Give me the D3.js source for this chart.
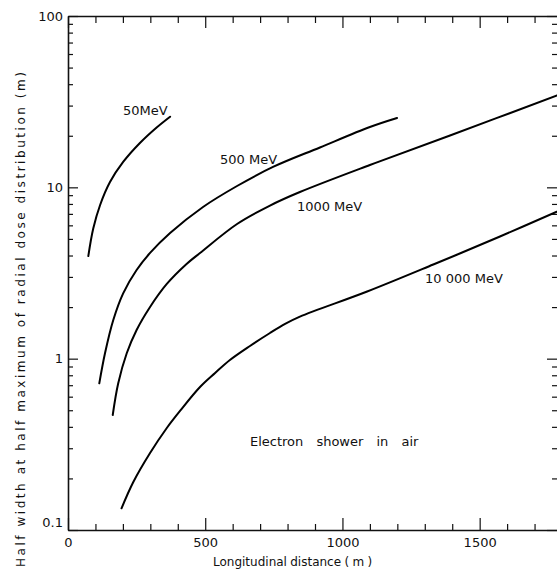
<!DOCTYPE html>
<html>
<head>
<meta charset="utf-8">
<script src="https://cdn.jsdelivr.net/npm/d3@7"></script>
<style>
  body { margin: 0; background: #fff; }
  text { font-family: "DejaVu Sans", sans-serif; fill: #111; }
</style>
</head>
<body>
<script>
// curves: [distance (m), half width (m)]
const mev50 = [[74, 3.97], [92, 5.75], [117, 7.89], [153, 10.74], [201, 14.06], [262, 18.14], [323, 22.35], [372, 25.84]];
const mev500 = [[114, 0.718], [135, 1.079], [165, 1.682], [201, 2.407], [250, 3.293], [299, 4.14], [372, 5.41],
  [492, 7.68], [616, 10.18], [747, 13.15], [918, 17.09], [1100, 22.5], [1199, 25.4]];
const mev1000 = [[163, 0.469], [183, 0.718], [214, 1.075], [250, 1.47], [299, 2.003], [360, 2.729], [432, 3.569],
  [481, 4.137], [616, 6.11], [736, 7.83], [845, 9.39], [1100, 13.5], [1392, 20.07], [1782, 34.4]];
const mev10000 = [[195, 0.1338], [238, 0.1906], [299, 0.2814], [360, 0.3938], [408, 0.4951], [481, 0.6832],
  [536, 0.8249], [590, 0.982], [663, 1.186], [736, 1.412], [791, 1.594], [845, 1.758], [1090, 2.466],
  [1331, 3.545], [1574, 5.164], [1781, 7.21]];

const curveLabels = [
  {text: "50MeV", x: 200, y: 26.4},
  {text: "500 MeV", x: 554, y: 13.7},
  {text: "1000 MeV", x: 834, y: 7.25},
  {text: "10 000 MeV", x: 1301, y: 2.75}
];

const xMajor = [0, 500, 1000, 1500];
const yMajor = [0.1, 1, 10, 100];
const yTickLabels = ["0.1", "1", "10", "100"];

const W = 557, H = 573;
const margin = {left: 68, top: 16};
const plotW = 494, plotH = 514;

const svg = d3.select("body").append("svg")
  .attr("width", W).attr("height", H);

const x = d3.scaleLinear().domain([0, 1800]).range([margin.left, margin.left + plotW]);
const y = d3.scaleLog().domain([0.1, 100]).range([margin.top + plotH, margin.top]);

const xMinor = d3.range(0, 1801, 100).filter(d => d % 500 !== 0);
const yMinor = y.ticks().filter(d => !yMajor.some(m => Math.abs(m - d) < 1e-9));

function styleAxis(g) {
  g.selectAll("path.domain").attr("stroke", "#111").attr("stroke-width", 1.6);
  g.selectAll(".tick line").attr("stroke", "#111").attr("stroke-width", 1.2);
}

// bottom
svg.append("g")
  .attr("transform", `translate(0,${y(0.1)})`)
  .call(d3.axisBottom(x).tickValues(xMajor).tickSizeInner(-12).tickSizeOuter(0).tickPadding(8).tickFormat(d3.format("d")))
  .call(styleAxis)
  .call(g => g.selectAll(".tick text").attr("font-size", 13));
svg.append("g")
  .attr("transform", `translate(0,${y(0.1)})`)
  .call(d3.axisBottom(x).tickValues(xMinor).tickSizeInner(-6).tickSizeOuter(0).tickFormat(""))
  .call(styleAxis)
  .call(g => g.select(".domain").remove());

// top
svg.append("g")
  .attr("transform", `translate(0,${y(100)})`)
  .call(d3.axisTop(x).tickValues(xMajor).tickSizeInner(-12).tickSizeOuter(0).tickFormat(""))
  .call(styleAxis);
svg.append("g")
  .attr("transform", `translate(0,${y(100)})`)
  .call(d3.axisTop(x).tickValues(xMinor).tickSizeInner(-7).tickSizeOuter(0).tickFormat(""))
  .call(styleAxis)
  .call(g => g.select(".domain").remove());

// left
svg.append("g")
  .attr("transform", `translate(${x(0)},0)`)
  .call(d3.axisLeft(y).tickValues(yMajor).tickSizeInner(-10).tickSizeOuter(0).tickPadding(5)
    .tickFormat((d, i) => yTickLabels[i]))
  .call(styleAxis)
  .call(g => g.selectAll(".tick text").attr("font-size", 13))
  .call(g => g.selectAll(".tick text").filter(d => d === 0.1).attr("dy", "-0.3em"));
svg.append("g")
  .attr("transform", `translate(${x(0)},0)`)
  .call(d3.axisLeft(y).tickValues(yMinor).tickSizeInner(-5).tickSizeOuter(0).tickFormat(""))
  .call(styleAxis)
  .call(g => g.select(".domain").remove());

// right
svg.append("g")
  .attr("transform", `translate(${x(1800)},0)`)
  .call(d3.axisRight(y).tickValues(yMajor).tickSizeInner(-15).tickSizeOuter(0).tickFormat(""))
  .call(styleAxis);
svg.append("g")
  .attr("transform", `translate(${x(1800)},0)`)
  .call(d3.axisRight(y).tickValues(yMinor).tickSizeInner(-10).tickSizeOuter(0).tickFormat(""))
  .call(styleAxis)
  .call(g => g.select(".domain").remove());

// curves
const line = d3.line()
  .x(d => x(d[0]))
  .y(d => y(d[1]))
  .curve(d3.curveCatmullRom.alpha(0.5));

svg.selectAll("path.curve")
  .data([mev50, mev500, mev1000, mev10000])
  .enter().append("path")
  .attr("class", "curve")
  .attr("d", line)
  .attr("fill", "none")
  .attr("stroke", "#000")
  .attr("stroke-width", 2)
  .attr("stroke-linecap", "round");

svg.selectAll("text.clab")
  .data(curveLabels)
  .enter().append("text")
  .attr("class", "clab")
  .attr("x", d => x(d.x))
  .attr("y", d => y(d.y))
  .attr("font-size", 13)
  .text(d => d.text);

svg.append("text")
  .attr("x", x(663))
  .attr("y", y(0.31))
  .attr("font-size", 13)
  .attr("word-spacing", 9)
  .text("Electron shower in air");

// axis titles
svg.append("text")
  .attr("x", x(0) + 145)
  .attr("y", 566)
  .attr("font-size", 12)
  .attr("word-spacing", -0.5)
  .text("Longitudinal distance ( m )");

svg.append("text")
  .attr("transform", "translate(25,567) rotate(-90)")
  .attr("font-size", 12)
  .attr("textLength", 495)
  .attr("lengthAdjust", "spacing")
  .text("Half width at half maximum of radial dose distribution  (m)");
</script>
</body>
</html>
